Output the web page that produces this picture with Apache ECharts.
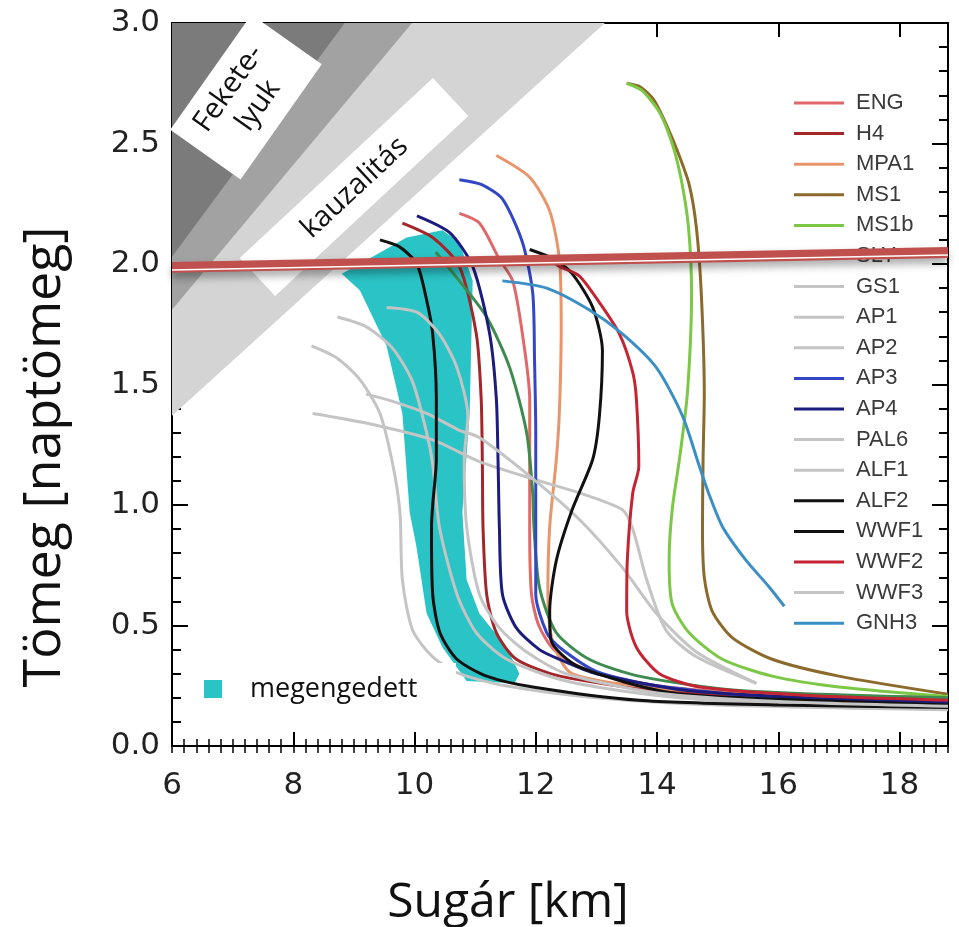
<!DOCTYPE html>
<html lang="hu">
<head>
<meta charset="UTF-8">
<title>Tömeg–sugár</title>
<style>
  html, body { margin: 0; padding: 0; background: #fff; }
  #chart { width: 959px; height: 927px; }
</style>
</head>
<body>
<div id="chart"></div>
<script src="https://cdn.jsdelivr.net/npm/echarts@6/dist/echarts.min.js"></script>
<script>
// tiltott tartományok (sugár km, tömeg naptömeg)
var feketeLyuk = [[6, 3], [6, 2.03], [8.85, 3]];
var buchdahl = [[6, 3], [6, 1.81], [9.96, 3]];
var kauzalitas = [[6, 3], [6, 1.37], [13.14, 3]];

// megengedett tartomány
var megengedett = [
  [9.31, 2.03], [9.87, 2.11], [10.46, 2.14], [10.74, 2.09], [10.96, 1.93],
  [10.91, 1.38], [10.79, 0.97], [10.86, 0.69], [11.07, 0.55], [11.52, 0.41],
  [11.73, 0.30], [11.65, 0.26], [10.86, 0.27], [10.46, 0.41], [10.2, 0.55],
  [10.03, 0.83], [9.92, 0.97], [9.8, 1.38], [9.54, 1.66], [9.1, 1.89], [8.8, 1.96]
];

// 2 naptömeges mérés
var meresFelso = [[6, 1.986], [18.8, 2.048]];
var meresRes = [[6, 1.975], [18.8, 2.037]];

// állapotegyenletek
var eng = [[10.74,2.21],[11.07,2.17],[11.4,2.02],[11.62,1.93],[11.78,1.71],[11.9,1.44],[11.9,1.16],[11.9,0.91],[11.93,0.63],[12.05,0.5],[12.3,0.4],[12.8,0.32],[14,0.25],[16,0.21],[18.8,0.185]];
var h4 = [[9.8,2.17],[10.3,2.11],[10.74,1.99],[11.02,1.71],[11.1,1.44],[11.12,1.16],[11.13,0.91],[11.19,0.63],[11.35,0.47],[11.68,0.36],[12.4,0.29],[14,0.23],[16,0.2],[18.8,0.18]];
var mpa1 = [[11.35,2.45],[11.9,2.36],[12.23,2.22],[12.39,2.02],[12.42,1.74],[12.39,1.39],[12.34,1.19],[12.23,0.91],[12.2,0.63],[12.28,0.43],[12.6,0.3],[14,0.24],[16,0.215],[18.8,0.2]];
var ms1 = [[13.5,2.75],[13.72,2.735],[13.95,2.68],[14.15,2.58],[14.35,2.46],[14.53,2.33],[14.65,2.15],[14.73,1.88],[14.78,1.46],[14.76,1.19],[14.75,0.91],[14.78,0.7],[14.91,0.56],[15.24,0.45],[15.9,0.36],[17,0.29],[18.8,0.215]];
var ms1b = [[13.5,2.75],[13.75,2.72],[14.04,2.63],[14.25,2.5],[14.4,2.35],[14.52,2.15],[14.57,1.88],[14.5,1.46],[14.37,1.19],[14.25,0.98],[14.2,0.77],[14.25,0.59],[14.53,0.47],[15.08,0.36],[15.9,0.29],[17,0.245],[18.8,0.205]];
var sly = [[10.35,2.05],[10.74,1.93],[11.19,1.78],[11.57,1.57],[11.85,1.3],[11.95,1.05],[11.97,0.91],[12.06,0.66],[12.34,0.47],[12.88,0.36],[13.7,0.29],[15.36,0.23],[18.8,0.2]];
var gs1 = [[8.32,1.38],[9.2,1.34],[10.3,1.27],[11.07,1.18],[12.06,1.1],[12.72,1.05],[13.43,0.98],[13.6,0.9],[13.83,0.69],[14.15,0.48],[14.65,0.37],[15.64,0.26]];
var ap1 = [[8.3,1.66],[8.72,1.61],[9.1,1.52],[9.43,1.38],[9.64,1.17],[9.76,0.97],[9.8,0.69],[9.97,0.48],[10.3,0.37],[10.74,0.3],[11.5,0.25],[13,0.2],[15,0.17],[18.8,0.15]];
var ap2 = [[8.73,1.78],[9.2,1.74],[9.64,1.65],[9.97,1.51],[10.2,1.3],[10.3,1.17],[10.41,0.91],[10.7,0.63],[11.02,0.47],[11.52,0.36],[12.5,0.27],[14,0.21],[16,0.175],[18.8,0.155]];
var ap3 = [[10.74,2.35],[11.1,2.33],[11.45,2.27],[11.78,2.09],[11.95,1.88],[11.98,1.6],[12,1.3],[12,0.91],[12,0.63],[12.18,0.47],[12.39,0.41],[13,0.31],[14,0.25],[16,0.2],[18.8,0.18]];
var ap4 = [[10.04,2.2],[10.58,2.13],[10.96,1.99],[11.24,1.71],[11.35,1.44],[11.38,1.16],[11.4,0.91],[11.45,0.63],[11.68,0.49],[12.06,0.4],[12.39,0.36],[13,0.3],[14.5,0.23],[16.5,0.2],[18.8,0.18]];
var pal6 = [[9.2,1.46],[9.64,1.43],[10.2,1.38],[10.74,1.31],[11.07,1.28],[11.9,1.12],[12.72,0.94],[13.43,0.74],[13.99,0.55],[14.65,0.39],[15.64,0.26]];
var alf1 = [];
var alf2 = [[9.43,2.1],[9.76,2.07],[10.04,2],[10.2,1.85],[10.3,1.71],[10.36,1.44],[10.36,1.19],[10.3,1],[10.28,0.91],[10.3,0.63],[10.42,0.47],[10.7,0.36],[11.19,0.29],[11.95,0.245],[13.7,0.19],[16,0.17],[18.8,0.16]];
var wwf1 = [[11.9,2.06],[12.3,2.02],[12.6,1.96],[12.94,1.82],[13.1,1.64],[13.05,1.37],[12.94,1.19],[12.6,0.98],[12.34,0.77],[12.23,0.56],[12.25,0.44],[12.7,0.33],[14.25,0.22],[16.46,0.19],[18.8,0.17]];
var wwf2 = [[12.15,2.03],[12.39,1.99],[12.72,1.95],[13.05,1.84],[13.38,1.71],[13.6,1.55],[13.66,1.44],[13.7,1.16],[13.6,1.05],[13.51,0.77],[13.5,0.56],[13.66,0.41],[14.04,0.3],[14.7,0.245],[16.5,0.21],[18.8,0.19]];
var wwf3 = [[9.54,1.82],[10.04,1.8],[10.41,1.71],[10.7,1.57],[10.88,1.37],[10.82,1.19],[10.86,0.91],[11.07,0.63],[11.4,0.49],[11.85,0.39],[12.5,0.3],[14,0.22],[16,0.185],[18.8,0.165]];
var gnh3 = [[11.45,1.93],[12.18,1.9],[12.88,1.81],[13.43,1.71],[13.99,1.57],[14.42,1.37],[14.7,1.16],[14.85,1.05],[15.08,0.91],[15.47,0.77],[15.85,0.66],[16.1,0.58]];

var nevek = ['ENG','H4','MPA1','MS1','MS1b','SLY','GS1','AP1','AP2','AP3','AP4','PAL6','ALF1','ALF2','WWF1','WWF2','WWF3','GNH3'];
var gorbek = [eng, h4, mpa1, ms1, ms1b, sly, gs1, ap1, ap2, ap3, ap4, pal6, alf1, alf2, wwf1, wwf2, wwf3, gnh3];
var szurke = '#c4c4c4';
var szinek = ['#e0686a','#a3262b','#e9956b','#8b6a2b','#7cc846','#3d8b4f',szurke,szurke,szurke,'#3347c4','#1c1c7e',szurke,szurke,'#111111','#111111','#c42532',szurke,'#3b8fc4'];

var chart = echarts.init(document.getElementById('chart'));

function sokszog(pts, color, z) {
  return {
    type: 'custom',
    z: z,
    silent: true,
    data: [pts[0]],
    renderItem: function (params, api) {
      return {
        type: 'polygon',
        shape: { points: pts.map(function (p) { return api.coord(p); }) },
        style: { fill: color }
      };
    }
  };
}

var series = [
  sokszog(kauzalitas, '#d4d4d4', 1),
  sokszog(buchdahl, '#a2a2a2', 1),
  sokszog(feketeLyuk, '#7b7b7b', 1),
  sokszog(megengedett, '#2bc4c6', 1)
];

for (var i = 0; i < nevek.length; i++) {
  series.push({
    name: nevek[i],
    type: 'line',
    data: gorbek[i],
    smooth: 0.25,
    symbol: 'none',
    z: 2,
    color: szinek[i],
    lineStyle: { width: 3, color: szinek[i] }
  });
}

series.push({
  type: 'line', data: meresFelso, symbol: 'none', z: 10, silent: true,
  lineStyle: { width: 11, color: '#c0504d', shadowColor: 'rgba(0,0,0,0.35)', shadowBlur: 8, shadowOffsetY: 5 }
});
series.push({
  type: 'line', data: meresRes, symbol: 'none', z: 11, silent: true,
  lineStyle: { width: 1.5, color: '#ffffff' }
});

var tengelyVonal = { show: true, onZero: false, lineStyle: { color: '#000', width: 2 } };
var felirat = { fontSize: 29, fontFamily: 'Open Sans', fill: '#111', align: 'center', verticalAlign: 'middle' };

var option = {
  animation: false,
  backgroundColor: '#fff',
  grid: { left: 172, right: 11, top: 23, bottom: 181 },
  xAxis: [
    {
      type: 'value', min: 6, max: 18.8, interval: 2, position: 'bottom',
      axisLine: tengelyVonal,
      axisTick: { inside: true, length: 14, lineStyle: { color: '#000', width: 2 } },
      axisLabel: {
        margin: 24, fontSize: 31, color: '#222', fontFamily: 'DejaVu Sans',
        formatter: function (v) { return v % 2 === 0 ? String(v) : ''; }
      },
      splitLine: { show: false }
    },
    {
      type: 'value', min: 6, max: 18.8, interval: 0.2, position: 'bottom',
      axisLine: { show: false },
      axisTick: { inside: true, length: 7, lineStyle: { color: '#000', width: 1.5 } },
      axisLabel: { show: false }, splitLine: { show: false }
    },
    {
      type: 'value', min: 6, max: 18.8, interval: 2, position: 'top',
      axisLine: tengelyVonal,
      axisTick: { inside: true, length: 14, lineStyle: { color: '#000', width: 2 } },
      axisLabel: { show: false }, splitLine: { show: false }
    },
    {
      type: 'value', min: 6, max: 18.8, interval: 0.2, position: 'top',
      axisLine: { show: false },
      axisTick: { inside: true, length: 7, lineStyle: { color: '#000', width: 1.5 } },
      axisLabel: { show: false }, splitLine: { show: false }
    }
  ],
  yAxis: [
    {
      type: 'value', min: 0, max: 3, interval: 0.5, position: 'left',
      axisLine: tengelyVonal,
      axisTick: { inside: true, length: 16, lineStyle: { color: '#000', width: 2 } },
      minorTick: { show: true, splitNumber: 5, length: 9, lineStyle: { color: '#000', width: 2 } },
      axisLabel: {
        margin: 12, fontSize: 31, color: '#222', fontFamily: 'DejaVu Sans',
        formatter: function (v) { return v.toFixed(1); }
      },
      splitLine: { show: false }, minorSplitLine: { show: false }
    },
    {
      type: 'value', min: 0, max: 3, interval: 0.5, position: 'right',
      axisLine: tengelyVonal,
      axisTick: { inside: true, length: 16, lineStyle: { color: '#000', width: 2 } },
      minorTick: { show: true, splitNumber: 5, length: 9, lineStyle: { color: '#000', width: 2 } },
      axisLabel: { show: false },
      splitLine: { show: false }, minorSplitLine: { show: false }
    }
  ],
  legend: {
    data: nevek,
    orient: 'vertical',
    left: 794, top: 92, padding: 0,
    icon: 'rect', itemWidth: 50, itemHeight: 3, itemGap: 8.6,
    selectedMode: false,
    textStyle: { fontSize: 22, color: '#3a3a3a', fontFamily: 'Liberation Sans', lineHeight: 22, padding: [0, 0, 0, 7] }
  },
  graphic: [
    {
      type: 'group', x: 246, y: 97, rotation: 0.957,
      children: [
        { type: 'rect', z: 5, shape: { x: -70.5, y: -43, width: 141, height: 86 }, style: { fill: '#fff' } },
        { type: 'text', z: 6, x: -3, y: -19, style: Object.assign({ text: 'Fekete-' }, felirat) },
        { type: 'text', z: 6, x: 0, y: 15, style: Object.assign({ text: 'lyuk' }, felirat) }
      ]
    },
    {
      type: 'group', x: 354, y: 187, rotation: 0.75,
      children: [
        { type: 'rect', z: 5, shape: { x: -132, y: -26, width: 264, height: 52 }, style: { fill: '#fff' } },
        { type: 'text', z: 6, x: 0, y: 1, style: Object.assign({ text: 'kauzalitás' }, felirat) }
      ]
    },
    { type: 'rect', z: 5, shape: { x: 190, y: 663, width: 266, height: 50 }, style: { fill: '#fff' } },
    { type: 'rect', z: 6, shape: { x: 204, y: 680, width: 18, height: 18 }, style: { fill: '#2bc4c6' } },
    { type: 'text', z: 6, x: 250, y: 689, style: { text: 'megengedett', fontSize: 27, fontFamily: 'Open Sans', fill: '#111', align: 'left', verticalAlign: 'middle' } },
    { type: 'text', x: 45, y: 457, rotation: Math.PI / 2, style: { text: 'Tömeg [naptömeg]', fontSize: 52, fontFamily: 'Open Sans', fill: '#111', align: 'center', verticalAlign: 'middle' } },
    { type: 'text', x: 508, y: 903, style: { text: 'Sugár [km]', fontSize: 48, fontFamily: 'Open Sans', fill: '#111', align: 'center', verticalAlign: 'middle' } }
  ],
  series: series
};

chart.setOption(option);
</script>
</body>
</html>
